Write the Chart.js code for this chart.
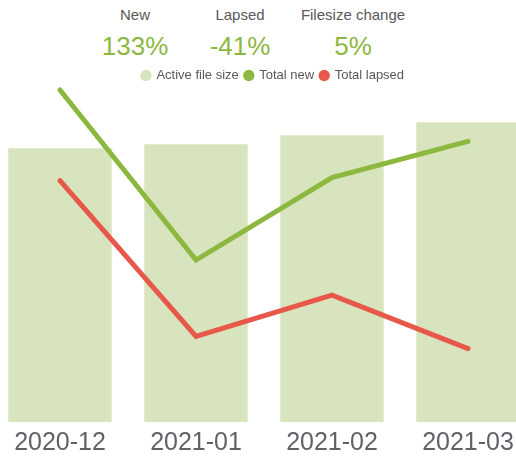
<!DOCTYPE html>
<html><head><meta charset="utf-8">
<script src="https://cdn.jsdelivr.net/npm/chart.js@4"></script>
<style>
html,body{margin:0;padding:0;width:516px;height:456px;overflow:hidden;background:#fff;font-family:"Liberation Sans",Arial,sans-serif;}
.kpi{position:absolute;top:5px;width:140px;text-align:center;}
.kpi .t{font-size:15px;color:#595959;line-height:20px;}
.kpi .v{font-size:26px;color:#8db83f;line-height:34px;margin-top:4px;}
#wrap{position:absolute;left:-8px;top:57px;width:544px;height:407px;}
</style></head>
<body>
<div class="kpi" style="left:65px"><div class="t">New</div><div class="v">133%</div></div>
<div class="kpi" style="left:170px"><div class="t">Lapsed</div><div class="v">-41%</div></div>
<div class="kpi" style="left:283px"><div class="t">Filesize change</div><div class="v">5%</div></div>
<div id="wrap"><canvas id="c"></canvas></div>
<script>
const categories = ["2020-12", "2021-01", "2021-02", "2021-03"];
const activeFileSize = [272, 276, 285, 298];
const totalNew = [330, 161, 243, 279];
const totalLapsed = [240, 85, 126, 73];

const shiftLegend = {
  id:'shiftLegend',
  afterLayout(chart){ if(chart.legend){ chart.legend.left += 9; chart.legend.right += 9; } }
};

new Chart(document.getElementById('c'), {
  data: {
    labels: categories,
    datasets: [
      {type:'bar', label:'Active file size', data: activeFileSize, backgroundColor:'#d7e4bd', borderColor:'#d7e4bd', barPercentage:0.76, categoryPercentage:1.0, order:3},
      {type:'line', label:'Total new', data: totalNew, borderColor:'#8db83f', backgroundColor:'#8db83f', borderWidth:5, pointRadius:0, borderCapStyle:'round', tension:0, clip:false, order:1},
      {type:'line', label:'Total lapsed', data: totalLapsed, borderColor:'#e8584a', backgroundColor:'#e8584a', borderWidth:5, pointRadius:0, borderCapStyle:'round', tension:0, clip:false, order:2}
    ]
  },
  plugins:[shiftLegend],
  options: {
    responsive:true, maintainAspectRatio:false, animation:false,
    layout:{padding:{top:6,bottom:0,left:0,right:0}},
    plugins:{
      tooltip:{enabled:false},
      legend:{position:'top', labels:{
        font:{family:'"Liberation Sans", Arial, sans-serif', size:13}, color:'#595959',
        usePointStyle:true, pointStyle:'circle', boxWidth:8, boxHeight:8, padding:6,
        sort:(a,b)=> a.datasetIndex - b.datasetIndex,
        generateLabels:(chart)=> Chart.defaults.plugins.legend.labels.generateLabels(chart).map(l=>({...l, lineWidth:0, strokeStyle:l.fillStyle}))
      }}
    },
    scales:{
      x:{grid:{display:false, drawTicks:false}, border:{display:false},
         ticks:{font:{family:'"Liberation Sans", Arial, sans-serif', size:25}, color:'#5f6368', padding:6}},
      y:{display:false, min:0, max:328}
    }
  }
});
</script>
</body></html>
